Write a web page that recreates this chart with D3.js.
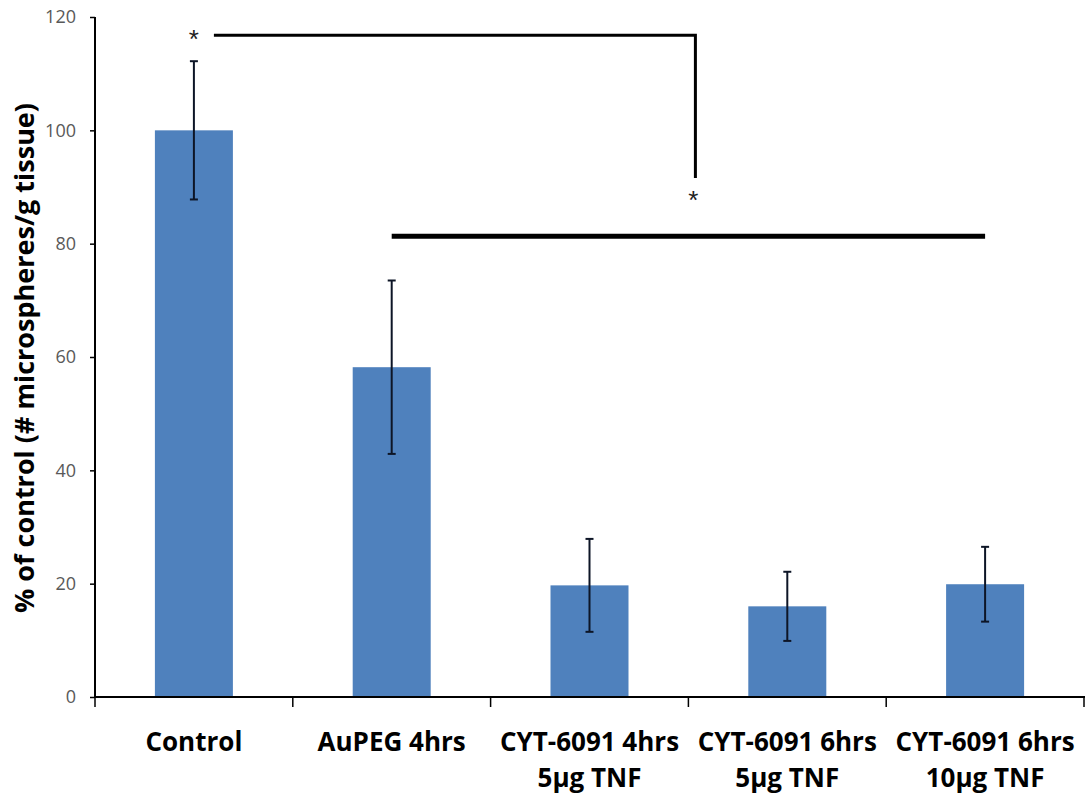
<!DOCTYPE html>
<html><head><meta charset="utf-8">
<script src="https://cdn.jsdelivr.net/npm/d3@7"></script>
<style>body{margin:0;background:#fff}</style>
</head><body>
<svg id="c" width="1089" height="800"></svg>
<script>
const categories = [["Control"],["AuPEG 4hrs"],["CYT-6091 4hrs","5µg TNF"],["CYT-6091 6hrs","5µg TNF"],["CYT-6091 6hrs","10µg TNF"]];
const values = [100, 58.2, 19.7, 16.0, 19.9];
const errors = [12.2, 15.3, 8.2, 6.1, 6.6];
const yTicks = [0, 20, 40, 60, 80, 100, 120];
const yTitle = "% of control (# microspheres/g tissue)";

const svg = d3.select("#c");
const m = {l:95, r:4, t:17, b:103};
const W = 1089, H = 800;
const xb = d3.scaleLinear().domain([0, categories.length]).range([m.l, W - m.r - 1]);
const y = d3.scaleLinear().domain([0, 120]).range([H - m.b, m.t]);
const font = "'Open Sans', Lato, sans-serif";

// bars
svg.append("g").selectAll("rect").data(values).join("rect")
  .attr("x", (d,i)=>xb(i+0.5) - 39).attr("width", 78)
  .attr("y", d=>y(d)).attr("height", d=>y(0)-y(d))
  .attr("fill", "#4F81BD");

// error bars
const eg = svg.append("g").attr("stroke", "#0d1526").attr("stroke-width", 2);
values.forEach((v,i)=>{
  const cx = xb(i+0.5);
  eg.append("line").attr("x1",cx).attr("x2",cx).attr("y1",y(v+errors[i])).attr("y2",y(v-errors[i]));
  eg.append("line").attr("x1",cx-4).attr("x2",cx+4).attr("y1",y(v+errors[i])).attr("y2",y(v+errors[i]));
  eg.append("line").attr("x1",cx-4).attr("x2",cx+4).attr("y1",y(v-errors[i])).attr("y2",y(v-errors[i]));
});

// y axis
const ya = svg.append("g").attr("transform",`translate(${m.l},0)`)
  .call(d3.axisLeft(y).tickValues(yTicks).tickSize(5).tickPadding(14));
ya.select(".domain").attr("stroke","#000").attr("stroke-width",2).attr("d",`M0,${y(120)}H0V${y(0)}`);
ya.selectAll(".tick line").attr("stroke","#000").attr("stroke-width",1.5);
ya.selectAll(".tick text").attr("fill","#595959").style("font-family",font).style("font-size","18px");

// x axis
svg.append("line").attr("x1",m.l).attr("x2",W-m.r).attr("y1",y(0)).attr("y2",y(0)).attr("stroke","#000").attr("stroke-width",2);
svg.append("g").selectAll("line").data(d3.range(categories.length+1)).join("line")
  .attr("x1",d=>xb(d)).attr("x2",d=>xb(d)).attr("y1",y(0)).attr("y2",y(0)+10)
  .attr("stroke","#000").attr("stroke-width",1.5);
const lbl = svg.append("g").selectAll("text").data(categories).join("text")
  .attr("x",(d,i)=>xb(i+0.5)).attr("y",751)
  .attr("text-anchor","middle").style("font-family",font).style("font-weight","bold").style("font-size","26px").attr("fill","#000");
lbl.each(function(d){
  const t = d3.select(this);
  d.forEach((s,k)=>t.append("tspan").attr("x",t.attr("x")).attr("dy",k?36:0).text(s));
});

// y title
svg.append("text").attr("transform",`translate(34,${(y(0)+y(120))/2+1}) rotate(-90)`)
  .attr("text-anchor","middle").style("font-family",font).style("font-weight","bold").style("font-size","27px").text(yTitle);

// significance annotations
const sigTop = 116.8, sigDrop = 91.6, sigBar = 81.3;
const ag = svg.append("g").attr("stroke","#000").attr("fill","none");
ag.append("path").attr("stroke-width",3)
  .attr("d",`M${xb(0.5)+20},${y(sigTop)}H${xb(3)+7}V${y(sigDrop)}`);
ag.append("line").attr("stroke-width",5)
  .attr("x1",xb(1.5)).attr("x2",xb(4.5)).attr("y1",y(sigBar)).attr("y2",y(sigBar));
svg.append("text").attr("x",xb(0.5)).attr("y",y(sigTop)+13).attr("text-anchor","middle")
  .style("font-family","'Liberation Sans', sans-serif").style("font-size","26px").attr("fill","#222").text("*");
svg.append("text").attr("x",xb(3)+5).attr("y",y(sigDrop)+31).attr("text-anchor","middle")
  .style("font-family","'Liberation Sans', sans-serif").style("font-size","26px").attr("fill","#222").text("*");
</script>
</body></html>
